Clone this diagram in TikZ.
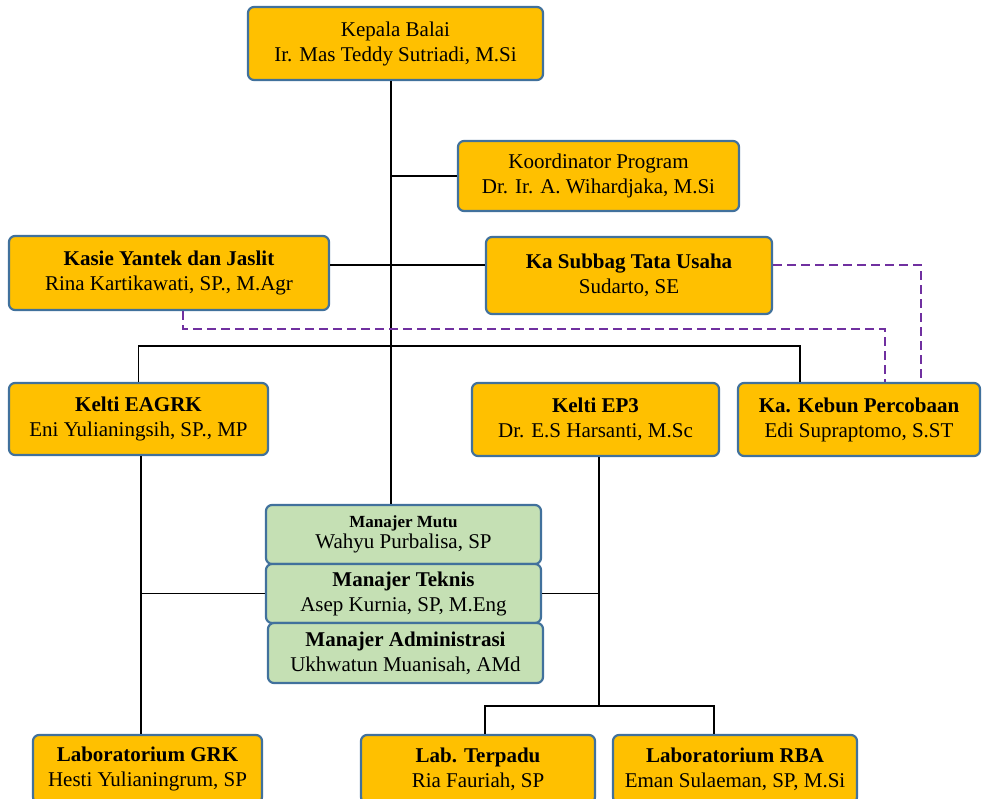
\documentclass[tikz,border=0pt]{standalone}
\usepackage{fontspec}
\setmainfont{Liberation Serif}
\usepackage{xcolor}
\usepackage{tikz}
\usetikzlibrary{calc}

\definecolor{kuning}{HTML}{FFC000}
\definecolor{hijau}{HTML}{C5E0B4}
\definecolor{tepi}{RGB}{65,113,156}
\definecolor{ungu}{HTML}{7030A0}

\begin{document}
\begin{tikzpicture}[x=1pt,y=-1pt]

% Gaya kotak dan garis
\tikzset{kotak/.style={draw=tepi, fill=kuning, line width=2.2pt, rounded corners=6pt, inner sep=0pt, align=center, font=\fontsize{21}{25}\selectfont},
  kotakhijau/.style={kotak, fill=hijau},
  hubung/.style={line width=1.4pt},
  putus/.style={draw=ungu, line width=1.8pt, dash pattern=on 9pt off 5pt}}

\useasboundingbox (0,0) rectangle (982,798);

% --- Pimpinan ---
\node[kotak, minimum width=295pt, minimum height=73pt] (kepala) at (395.5,43.5) {Kepala Balai\\Ir. Mas Teddy Sutriadi, M.Si};
\node[kotak, minimum width=281pt, minimum height=70pt] (koord) at (598.5,176) {Koordinator Program\\Dr. Ir. A. Wihardjaka, M.Si};
\node[kotak, minimum width=320pt, minimum height=74pt] (kasie) at (169,273) {\textbf{Kasie Yantek dan Jaslit}\\Rina Kartikawati, SP., M.Agr};
\node[kotak, minimum width=286pt, minimum height=77pt] (subbag) at (629,275.5) {\textbf{Ka Subbag Tata Usaha}\\Sudarto, SE};

% --- Kelti dan kebun ---
\node[kotak, minimum width=259pt, minimum height=72pt] (eagrk) at (138.5,419) {\textbf{Kelti EAGRK}\\Eni Yulianingsih, SP., MP};
\node[kotak, minimum width=247pt, minimum height=73pt] (ep3) at (595.5,419.5) {\textbf{Kelti EP3}\\Dr. E.S Harsanti, M.Sc};
\node[kotak, minimum width=242pt, minimum height=73pt] (kebun) at (859,419.5) {\textbf{Ka. Kebun Percobaan}\\Edi Supraptomo, S.ST};

% --- Manajer ---
\node[kotakhijau, minimum width=275pt, minimum height=59pt, font=\fontsize{21}{21}\selectfont] (mutu) at (403.5,534.5) {{\fontsize{17}{17}\selectfont\bfseries Manajer Mutu}\\Wahyu Purbalisa, SP};
\node[kotakhijau, minimum width=275pt, minimum height=59pt] (teknis) at (403.5,593.5) {\textbf{Manajer Teknis}\\Asep Kurnia, SP, M.Eng};
\node[kotakhijau, minimum width=275pt, minimum height=60pt] (admin) at (405.5,653) {\textbf{Manajer Administrasi}\\Ukhwatun Muanisah, AMd};

% --- Laboratorium ---
\node[kotak, minimum width=229pt, minimum height=68pt] (grk) at (147.5,769) {\textbf{Laboratorium GRK}\\Hesti Yulianingrum, SP};
\node[kotak, minimum width=234pt, minimum height=68pt] (terpadu) at (478,769) {\textbf{Lab. Terpadu}\\Ria Fauriah, SP};
\node[kotak, minimum width=244pt, minimum height=68pt] (rba) at (735,769) {\textbf{Laboratorium RBA}\\Eman Sulaeman, SP, M.Si};

% Titik bantu
\coordinate (sumbu) at (391,0);
\coordinate (jalur) at (0,265);
\coordinate (bus) at (391,346);
\coordinate (kiri) at (141,0);
\coordinate (kanan) at (599,0);
\coordinate (cabang) at (599,706);

% Garis komando
\draw[hubung] (kepala.south -| sumbu) -- (mutu.north -| sumbu);
\draw[hubung] (sumbu |- koord.west) -- (koord.west);
\draw[hubung] (kasie.east |- jalur) -- (subbag.west |- jalur);
\draw[hubung] (eagrk.north) |- (bus) -| ([xshift=-59pt]kebun.north);
\draw[hubung] (eagrk.south -| kiri) -- (grk.north -| kiri);
\draw[hubung] (kiri |- teknis.west) -- (teknis.west);
\draw[hubung] (ep3.south -| kanan) -- (cabang);
\draw[hubung] (teknis.east) -- (kanan |- teknis.east);
\draw[hubung] ([xshift=7pt]terpadu.north) |- (cabang) -| ([xshift=-21pt]rba.north);

% Garis koordinasi (putus-putus)
\draw[putus] (subbag.east |- jalur) -| ([xshift=62pt]kebun.north);
\draw[putus] ([xshift=14pt]kasie.south) -- ++(0,18) -| ([xshift=26pt]kebun.north);

\end{tikzpicture}
\end{document}
